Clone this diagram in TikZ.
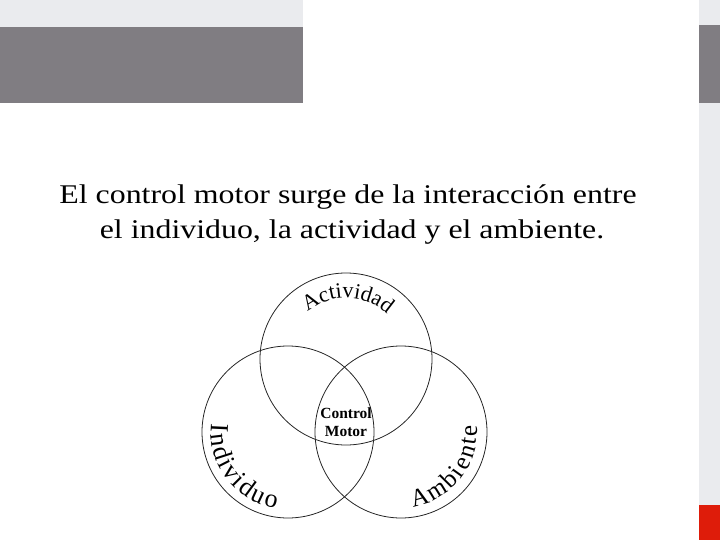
\documentclass[tikz,border=0pt]{standalone}
\usepackage{fontspec}
\setmainfont{Liberation Serif}
\newfontfamily\widefont[FakeStretch=1.18]{Liberation Serif}
\usetikzlibrary{decorations.text,calc}
\definecolor{bardark}{RGB}{128,125,130}
\definecolor{barlight}{RGB}{234,235,238}
\definecolor{barred}{RGB}{222,28,10}
\tikzstyle{ring}=[circle,draw=black!85,line width=0.8pt,minimum size=172pt,inner sep=0pt]
\tikzstyle{titleline}=[font=\widefont\fontsize{27}{34}\selectfont,anchor=base,inner sep=0pt]
\tikzstyle{centertext}=[font=\bfseries\fontsize{15.5}{17.5}\selectfont,align=center,inner sep=1pt]
\tikzset{arclabel/.style={decorate,decoration={text along path,text align={fit to path},text={#1}}}}

\begin{document}
\begin{tikzpicture}[x=1pt,y=1pt]
\useasboundingbox (0,0) rectangle (720,-540);

%bars
    \fill[barlight] (0,0) rectangle (303,-27);
    \fill[bardark] (0,-27) rectangle (303,-103);
    \fill[barlight] (699,0) rectangle (720,-25);
    \fill[bardark] (699,-25) rectangle (720,-103);
    \fill[barlight] (699,-103) rectangle (720,-505);
    \fill[barred] (699,-505) rectangle (720,-540);

%title
\node[titleline] (title1) at (348,-204) {El control motor surge de la interacción entre};
\node[titleline] (title2) at (352,-238) {el individuo, la actividad y el ambiente.};

%circles
    \foreach \pos/\name in {{(346,-359)/act}, {(288,-432)/ind}, {(401,-432)/amb}}
        \node[ring] (\name) at \pos {};

\node[centertext] (cm) at (346,-422) {Control\\Motor};

%labels on the circles
\path[arclabel={|\fontsize{22}{22}\selectfont|Actividad}] ($(act)+(129:61)$) arc (129:49:61);
\path[arclabel={|\fontsize{26}{26}\selectfont|Individuo}] ($(ind)+(174:77)$) arc (174:261:77);
\path[arclabel={|\fontsize{25}{25}\selectfont|Ambiente}] ($(amb)+(-81:76)$) arc (-81:5:76);

\end{tikzpicture}
\end{document}
